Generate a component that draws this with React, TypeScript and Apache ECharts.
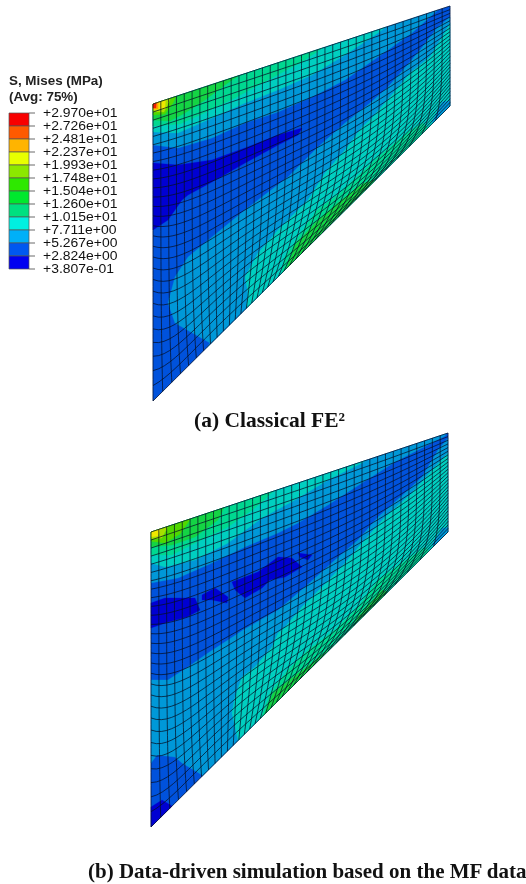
import React, { useEffect, useRef } from "react";
import * as echarts from "echarts";

type Pt = number[];

// Legend
const legendLabels = ["+2.970e+01","+2.726e+01","+2.481e+01","+2.237e+01","+1.993e+01","+1.748e+01","+1.504e+01","+1.260e+01","+1.015e+01","+7.711e+00","+5.267e+00","+2.824e+00","+3.807e-01"];
const legendColors = ["#f80000","#ff5a00","#ffb400","#e8ff00","#8ce800","#2ee800","#00e82e","#00e080","#00f0e0","#00b0f8","#0058f0","#0000f0"];
const titleLines = ["S, Mises (MPa)", "(Avg: 75%)"];
const captions = ["(a) Classical FE²", "(b) Data-driven simulation based on the MF data"];

// Colours of the contour bands as rendered on the shaded mesh, lowest stress first
const bandColors = ["#0000d2","#0052dc","#0098d8","#00cfc0","#00d890","#14d444","#50d800","#a6e000","#eee800","#ffa000","#f02000"];

// Outlines of the two meshes: top-left, top-right, bottom-right, bottom-left
const outlineA: Pt[] = [[153,104],[450,6],[450,106],[153,401]];
const outlineB: Pt[] = [[151,532],[448,433],[448,532],[151,827]];
const meshColumns = 38;
const meshRows = 28;

// Contour regions: [band, outline]; later regions lie on top
const contoursA: [number, Pt[]][] = [
  [1, [[140,90],[470,-10],[470,130],[140,420]]],
  [2, [[140,145],[153,145],[178,148],[212,138],[245,123],[278,112],[312,97],[345,80],[378,57],[412,33],[438,10],[445,-5],[140,-5]]],
  [3, [[140,132],[153,132],[178,133],[212,118],[245,103],[278,90],[312,75],[345,55],[378,33],[395,20],[395,-5],[140,-5]]],
  [4, [[140,126],[153,126],[180,124],[200,115],[235,98],[270,79],[300,63],[332,42],[332,-5],[140,-5]]],
  [5, [[140,120],[153,120],[170,121],[185,113],[205,100],[225,85],[244,72],[244,-5],[140,-5]]],
  [6, [[140,115],[153,115],[165,114],[173,103],[178,92],[178,80],[140,80]]],
  [7, [[140,112],[153,112],[164,112],[170,100],[170,88],[140,88]]],
  [8, [[140,110],[153,110],[165,109],[166,90],[140,90]]],
  [9, [[140,110],[158,109],[159,90],[140,90]]],
  [10, [[140,108],[156,108],[157,90],[140,90]]],
  [0, [[140,163],[153,163],[178,165],[212,160],[245,148],[278,135],[302,128],[298,135],[278,145],[245,163],[212,182],[188,195],[182,200],[168,220],[153,230],[140,230]]],
  [2, [[205,350],[210,343],[175,323],[168,303],[175,277],[188,257],[212,237],[245,210],[258,200],[288,177],[318,147],[345,123],[370,103],[387,88],[403,70],[420,50],[437,28],[452,15],[470,15],[470,130],[300,340]]],
  [3, [[246,312],[248,293],[245,277],[258,253],[278,230],[298,210],[308,200],[325,173],[345,150],[362,127],[370,120],[390,97],[410,73],[430,57],[442,37],[452,20],[470,20],[470,102],[400,200],[300,320]]],
  [2, [[440,106],[442,102],[456,100],[456,122],[432,122]]],
  [4, [[280,280],[282,272],[285,257],[303,230],[317,210],[340,193],[378,157],[408,132],[423,123],[432,132],[380,195],[300,290]]],
  [5, [[285,272],[295,245],[315,223],[338,203],[362,184],[374,180],[380,190],[300,280]]],
];

const contoursB: [number, Pt[]][] = [
  [1, [[140,520],[470,410],[470,560],[140,850]]],
  [2, [[140,583],[151,583],[178,578],[212,563],[245,547],[278,533],[298,523],[328,505],[362,483],[395,462],[422,448],[445,436],[450,425],[140,425]]],
  [3, [[140,563],[151,563],[165,567],[195,560],[228,543],[262,518],[295,500],[328,480],[362,463],[380,450],[385,425],[140,425]]],
  [4, [[140,555],[151,555],[172,555],[195,543],[228,527],[255,508],[275,490],[275,425],[140,425]]],
  [5, [[140,547],[151,547],[172,545],[195,537],[218,520],[226,504],[226,470],[140,470]]],
  [6, [[140,541],[150,541],[165,543],[180,534],[194,514],[194,490],[140,490]]],
  [7, [[140,539],[151,539],[162,538],[168,526],[168,510],[140,510]]],
  [8, [[140,537],[151,537],[158,536],[161,527],[161,515],[140,515]]],
  [0, [[140,603],[151,603],[165,598],[178,598],[195,598],[200,610],[187,617],[168,622],[151,628],[140,628]]],
  [0, [[202,595],[215,588],[228,597],[227,603],[212,600],[202,600]]],
  [0, [[232,582],[258,572],[278,557],[292,558],[302,567],[285,577],[270,580],[262,588],[245,598],[235,590]]],
  [0, [[298,553],[312,555],[308,560],[300,557]]],
  [2, [[140,680],[168,680],[188,667],[208,653],[228,640],[243,630],[278,610],[305,587],[335,560],[358,540],[378,517],[405,493],[422,477],[438,450],[448,438],[460,435],[460,540],[300,720],[205,785],[202,775],[182,763],[175,757],[157,755],[151,763],[140,765]]],
  [3, [[240,745],[238,740],[232,713],[235,697],[242,677],[255,667],[272,647],[278,633],[285,627],[302,607],[322,587],[345,563],[362,543],[385,517],[412,493],[432,470],[448,453],[460,445],[460,520],[300,700]]],
  [2, [[440,532],[442,528],[456,527],[456,545],[432,545]]],
  [4, [[258,720],[263,713],[270,693],[288,670],[308,650],[335,630],[358,607],[378,580],[402,563],[425,547],[436,560],[380,640]]],
  [5, [[262,720],[267,708],[273,693],[292,678],[312,663],[332,647],[350,632],[358,617],[382,590],[396,595],[300,720]]],
  [0, [[145,808],[151,807],[162,800],[172,806],[150,840]]],
];

// keep the part of a contour region that lies inside a convex mesh outline
function clipToOutline(poly: Pt[], quad: Pt[]): Pt[] {
  let out = poly;
  for (let k = 0; k < quad.length; k++) {
    const a = quad[k], b = quad[(k + 1) % quad.length];
    const side = (p: Pt) => (b[0]-a[0])*(p[1]-a[1]) - (b[1]-a[1])*(p[0]-a[0]);
    const next: Pt[] = [];
    for (let i = 0; i < out.length; i++) {
      const p = out[i], q = out[(i + 1) % out.length];
      const sp = side(p), sq = side(q);
      if (sp >= 0) next.push(p);
      if (sp * sq < 0) {
        const t = sp / (sp - sq);
        next.push([p[0] + (q[0]-p[0])*t, p[1] + (q[1]-p[1])*t]);
      }
    }
    out = next;
    if (!out.length) break;
  }
  return out;
}

// node (u, v) of the curved structured mesh
function meshNode(quad: Pt[], u: number, v: number): Pt {
  const [tl, tr, br, bl] = quad;
  const W = tr[0] - tl[0];
  const h = u + 0.28*u*(1-u)*(1-u) - 0.9*u*u*(1-u);
  const tx = tl[0] + W*u, ty = tl[1] + (tr[1]-tl[1])*u;
  const dx = bl[0] + W*h, dy = bl[1] + (br[1]-bl[1])*h;
  const g = 0.76*v + 0.24*v*v*v;
  const base = (1-u)*g + u*v;
  const kappa = 0.33*Math.pow(v, 1.6);
  const tau = 0.35*(1 - 0.8*v);
  const phi = (u/tau)*Math.exp(1-u/tau);
  const Q = base + (1-base)*kappa*phi;
  const w = Math.pow(v, 5);
  return [tx + (dx-tx)*w, ty + (dy-ty)*Q];
}

function meshLine(quad: Pt[], family: number, index: number): Pt[] {
  const pts: Pt[] = [];
  const steps = 60;
  for (let s = 0; s <= steps; s++) {
    const t = s/steps;
    pts.push(family === 0 ? meshNode(quad, index/meshColumns, t) : meshNode(quad, t, index/meshRows));
  }
  return pts;
}

const outlines = [outlineA, outlineB];

export default function App() {
  const ref = useRef<HTMLDivElement>(null);
  useEffect(() => {
    document.body.style.margin = "0";
    const chart = echarts.init(ref.current!, undefined, { renderer: "svg" });

    const regionData: number[][] = [];
    [contoursA, contoursB].forEach((list, p) => list.forEach(([band], idx) => {
      regionData.push([p, band, idx]);
    }));

    const lineData: number[][] = [];
    outlines.forEach((_, p) => {
      for (let i = 0; i <= meshColumns; i++) lineData.push([p, 0, i]);
      for (let j = 0; j <= meshRows; j++) lineData.push([p, 1, j]);
    });

    const cellData = legendColors.map((_, i) => [i, i + 1]);
    const labelData = legendLabels.map((_, i) => [i]);

    chart.setOption({
      animation: false,
      backgroundColor: "#fff",
      grid: { left: 0, top: 0, width: 526, height: 884, containLabel: false },
      xAxis: { type: "value", min: 0, max: 526, show: false },
      yAxis: { type: "value", min: 0, max: 884, inverse: true, show: false },
      series: [
        {
          type: "custom", coordinateSystem: "cartesian2d", silent: true, clip: false,
          data: regionData, encode: { x: 0, y: 1 },
          renderItem: (_: any, api: any) => {
            const p = api.value(0), band = api.value(1), idx = api.value(2);
            const poly = (p === 0 ? contoursA : contoursB)[idx][1];
            const pts = clipToOutline(poly, outlines[p]).map(q => api.coord(q));
            return { type: "polygon", shape: { points: pts }, style: { fill: bandColors[band], stroke: bandColors[band], lineWidth: 0.3 } };
          },
        },
        {
          type: "custom", coordinateSystem: "cartesian2d", silent: true, clip: false,
          data: lineData, encode: { x: 0, y: 1 },
          renderItem: (_: any, api: any) => {
            const p = api.value(0), fam = api.value(1), idx = api.value(2);
            const pts = meshLine(outlines[p], fam, idx).map(q => api.coord(q));
            return { type: "polyline", shape: { points: pts }, style: { fill: "none", stroke: "rgba(5,15,35,0.82)", lineWidth: 0.9 } };
          },
        },
        {
          type: "custom", coordinateSystem: "cartesian2d", silent: true, clip: false,
          data: cellData, encode: { x: 0, y: 1 },
          renderItem: (_: any, api: any) => {
            const k = api.value(0);
            const a = api.coord([9, 113 + k*13]);
            const b = api.coord([29, 113 + (k+1)*13]);
            return { type: "rect", shape: { x: a[0], y: a[1], width: b[0]-a[0], height: b[1]-a[1] },
              style: { fill: legendColors[k], stroke: "#555", lineWidth: 0.7 } };
          },
        },
        {
          type: "custom", coordinateSystem: "cartesian2d", silent: true, clip: false,
          data: labelData, encode: { x: 0, y: 0 },
          renderItem: (_: any, api: any) => {
            const k = api.value(0);
            const a = api.coord([29, 113 + k*13]);
            const b = api.coord([35, 113 + k*13]);
            const c = api.coord([43, 112.5 + k*13]);
            return { type: "group", children: [
              { type: "line", shape: { x1: a[0], y1: a[1], x2: b[0], y2: b[1] }, style: { stroke: "#444", lineWidth: 0.8 } },
              { type: "text", x: c[0], y: c[1], scaleX: 1.09, style: { text: legendLabels[k], x: 0, y: 0, fill: "#111", font: "12.8px 'Liberation Sans'", textVerticalAlign: "middle", textAlign: "left" } },
            ] };
          },
        },
      ],
      graphic: [
        { type: "text", x: 9, y: 80, style: { text: titleLines[0], fill: "#222", font: "bold 13.4px 'Liberation Sans'", textVerticalAlign: "middle" } },
        { type: "text", x: 9, y: 96, style: { text: titleLines[1], fill: "#222", font: "bold 13.4px 'Liberation Sans'", textVerticalAlign: "middle" } },
        { type: "text", x: 194, y: 420, style: { text: captions[0], fill: "#111", font: "bold 21.5px 'Liberation Serif'", textVerticalAlign: "middle" } },
        { type: "text", x: 88, y: 871, style: { text: captions[1], fill: "#111", font: "bold 21px 'Liberation Serif'", textVerticalAlign: "middle" } },
      ],
    });
    return () => chart.dispose();
  }, []);
  return <div ref={ref} style={{ width: 526, height: 884, filter: "blur(0.45px)" }} />;
}
